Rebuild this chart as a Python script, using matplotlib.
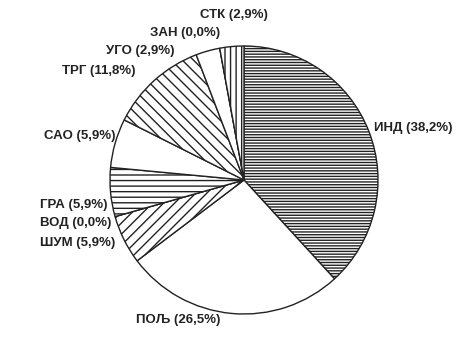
import numpy as np
import matplotlib
matplotlib.use('Agg')
import matplotlib.pyplot as plt

plt.rcParams['font.family'] = ['Liberation Sans Narrow', 'Liberation Sans', 'DejaVu Sans']
plt.rcParams['hatch.linewidth'] = 1.0

# data, clockwise from 12 o'clock
codes = ['ИНД', 'ПОЉ', 'ШУМ', 'ВОД', 'ГРА', 'САО', 'ТРГ', 'УГО', 'ЗАН', 'СТК']
shares = [38.2, 26.5, 5.9, 0.0, 5.9, 5.9, 11.8, 2.9, 0.0, 2.9]

hatches = ['------', '', '///', '', '---', '', '\\\\\\', '', '', '|||']

# label anchor (left edge, centre line) in pixels from top-left
label_pos = [(374, 128), (136, 320), (40, 243), (40, 223), (40, 205),
             (44, 136), (62, 71), (106, 51), (150, 33), (200, 15)]

W, H = 462, 338
fig = plt.figure(figsize=(W / 100, H / 100), dpi=100)
ax = fig.add_axes([0, 0, 1, 1])
ax.set_xlim(0, W)
ax.set_ylim(0, H)
ax.axis('off')

wedges, _ = ax.pie(shares, startangle=90, counterclock=False,
                   center=(244, H - 180), radius=134, frame=True,
                   colors=['white'] * len(shares),
                   wedgeprops=dict(edgecolor='#222222', linewidth=1.0))
for w, h in zip(wedges, hatches):
    w.set_hatch(h)
ax.set_xlim(0, W)
ax.set_ylim(0, H)
ax.set_aspect('equal')
ax.axis('off')

for c, s, (x, y) in zip(codes, shares, label_pos):
    ax.text(x, H - y, f'{c} ({s:.1f}%)'.replace('.', ','), fontsize=9.5,
            fontweight='bold', color='#222222', ha='left', va='center')

plt.savefig('out.png', dpi=100)
